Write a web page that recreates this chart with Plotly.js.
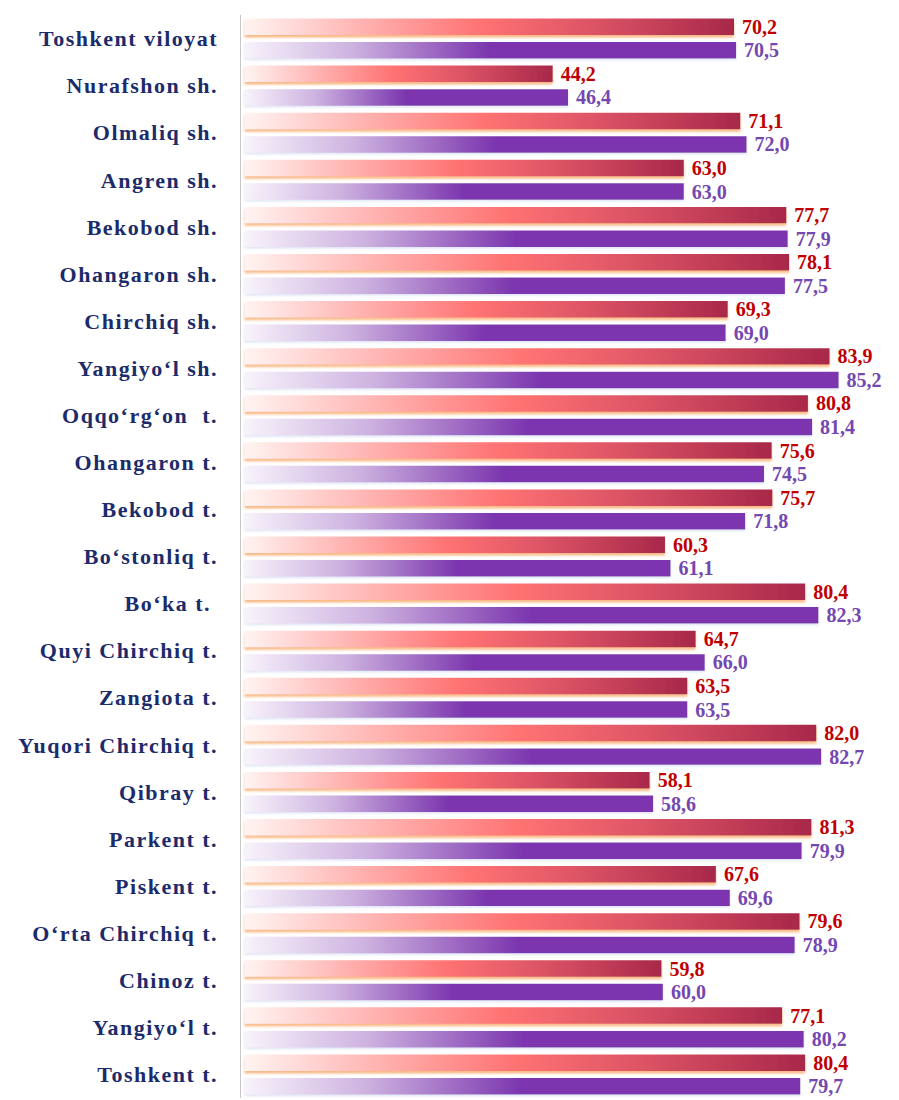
<!DOCTYPE html>
<html>
<head>
<meta charset="utf-8">
<script src="https://cdn.plot.ly/plotly-3.0.1.min.js"></script>
<style>
  body { margin: 0; background: #fff; }
  #plot { width: 899px; height: 1100px; }
  #plot .ytick text { letter-spacing: 1.5px; }
</style>
</head>
<body>
<div id="plot"></div>
<script>
// districts, top to bottom
var districts = [
    "Toshkent viloyat", "Nurafshon sh.", "Olmaliq sh.", "Angren sh.", "Bekobod sh.",
    "Ohangaron sh.", "Chirchiq sh.", "Yangiyo‘l sh.", "Oqqo‘rg‘on  t.", "Ohangaron t.",
    "Bekobod t.", "Bo‘stonliq t.", "Bo‘ka t. ", "Quyi Chirchiq t.", "Zangiota t.",
    "Yuqori Chirchiq t.", "Qibray t.", "Parkent t.", "Piskent t.", "O‘rta Chirchiq t.",
    "Chinoz t.", "Yangiyo‘l t.", "Toshkent t."
];

// first series (red bars)
var seriesA = [70.2, 44.2, 71.1, 63.0, 77.7, 78.1, 69.3, 83.9, 80.8, 75.6, 75.7, 60.3,
               80.4, 64.7, 63.5, 82.0, 58.1, 81.3, 67.6, 79.6, 59.8, 77.1, 80.4];

// second series (purple bars)
var seriesB = [70.5, 46.4, 72.0, 63.0, 77.9, 77.5, 69.0, 85.2, 81.4, 74.5, 71.8, 61.1,
               82.3, 66.0, 63.5, 82.7, 58.6, 79.9, 69.6, 78.9, 60.0, 80.2, 79.7];

var labelFont = "Liberation Serif, Times New Roman, serif";

var trace1 = {
    y: districts,
    x: seriesA,
    type: "bar",
    orientation: "h",
    marker: {color: "#f06070"},
    texttemplate: "\u00a0<b>%{x:.1f}</b>",
    textposition: "outside",
    constraintext: "none",
    cliponaxis: false,
    textfont: {family: labelFont, size: 20, color: "#c00000"},
    hoverinfo: "skip"
};

var trace2 = {
    y: districts,
    x: seriesB,
    type: "bar",
    orientation: "h",
    marker: {color: "#7b35ae"},
    texttemplate: "\u00a0<b>%{x:.1f}</b>",
    textposition: "outside",
    constraintext: "none",
    cliponaxis: false,
    textfont: {family: labelFont, size: 20, color: "#7448b0"},
    hoverinfo: "skip"
};

var layout = {
    width: 899,
    height: 1100,
    showlegend: false,
    barmode: "group",
    bargap: 0,
    bargroupgap: 0.3,
    separators: ", ",
    paper_bgcolor: "#ffffff",
    plot_bgcolor: "#ffffff",
    margin: {t: 15, l: 241, r: 6, b: 2},
    xaxis: {
        range: [-0.5, 93],
        showgrid: false,
        zeroline: false,
        showticklabels: false,
        showline: false
    },
    yaxis: {
        autorange: "reversed",
        showline: true,
        linecolor: "#c8c8c8",
        linewidth: 1.5,
        ticks: "",
        ticklabelstandoff: 17,
        tickfont: {family: labelFont, size: 22, color: "#1c2b6b", weight: "bold"}
    }
};

Plotly.newPlot("plot", [trace1, trace2], layout, {staticPlot: true}).then(function (gd) {
    // gradient fills + soft shadow, laid over the bars plotly drew
    var svg = gd.querySelector(".main-svg");
    var defs = svg.querySelector("defs");
    defs.insertAdjacentHTML("beforeend",
        '<linearGradient id="gradRed" x1="0" y1="0" x2="1" y2="0">' +
          '<stop offset="0" stop-color="#fff4f2"/>' +
          '<stop offset="0.25" stop-color="#ffb0ae"/>' +
          '<stop offset="0.48" stop-color="#ff7373"/>' +
          '<stop offset="0.7" stop-color="#de5566"/>' +
          '<stop offset="1" stop-color="#a8284a"/>' +
        '</linearGradient>' +
        '<linearGradient id="gradPurple" x1="0" y1="0" x2="1" y2="0">' +
          '<stop offset="0" stop-color="#f8f3fb"/>' +
          '<stop offset="0.22" stop-color="#cdb2e0"/>' +
          '<stop offset="0.5" stop-color="#7b35ae"/>' +
          '<stop offset="1" stop-color="#7b35ae"/>' +
        '</linearGradient>' +
        '<filter id="shadowRed" x="-5%" y="-40%" width="110%" height="190%">' +
          '<feDropShadow dx="0" dy="2.5" stdDeviation="1" flood-color="#f6a868" flood-opacity="0.8"/>' +
        '</filter>' +
        '<filter id="shadowPurple" x="-5%" y="-40%" width="110%" height="190%">' +
          '<feDropShadow dx="0" dy="1.5" stdDeviation="1.2" flood-color="#cfd8ee" flood-opacity="0.7"/>' +
        '</filter>'
    );
    var traces = svg.querySelectorAll(".barlayer .trace");
    var fills = ["url(#gradRed)", "url(#gradPurple)"];
    var shadows = ["url(#shadowRed)", "url(#shadowPurple)"];
    traces.forEach(function (tr, i) {
        tr.querySelectorAll(".point path").forEach(function (p) {
            p.style.fill = fills[i];
            p.setAttribute("filter", shadows[i]);
        });
    });
});
</script>
</body>
</html>
